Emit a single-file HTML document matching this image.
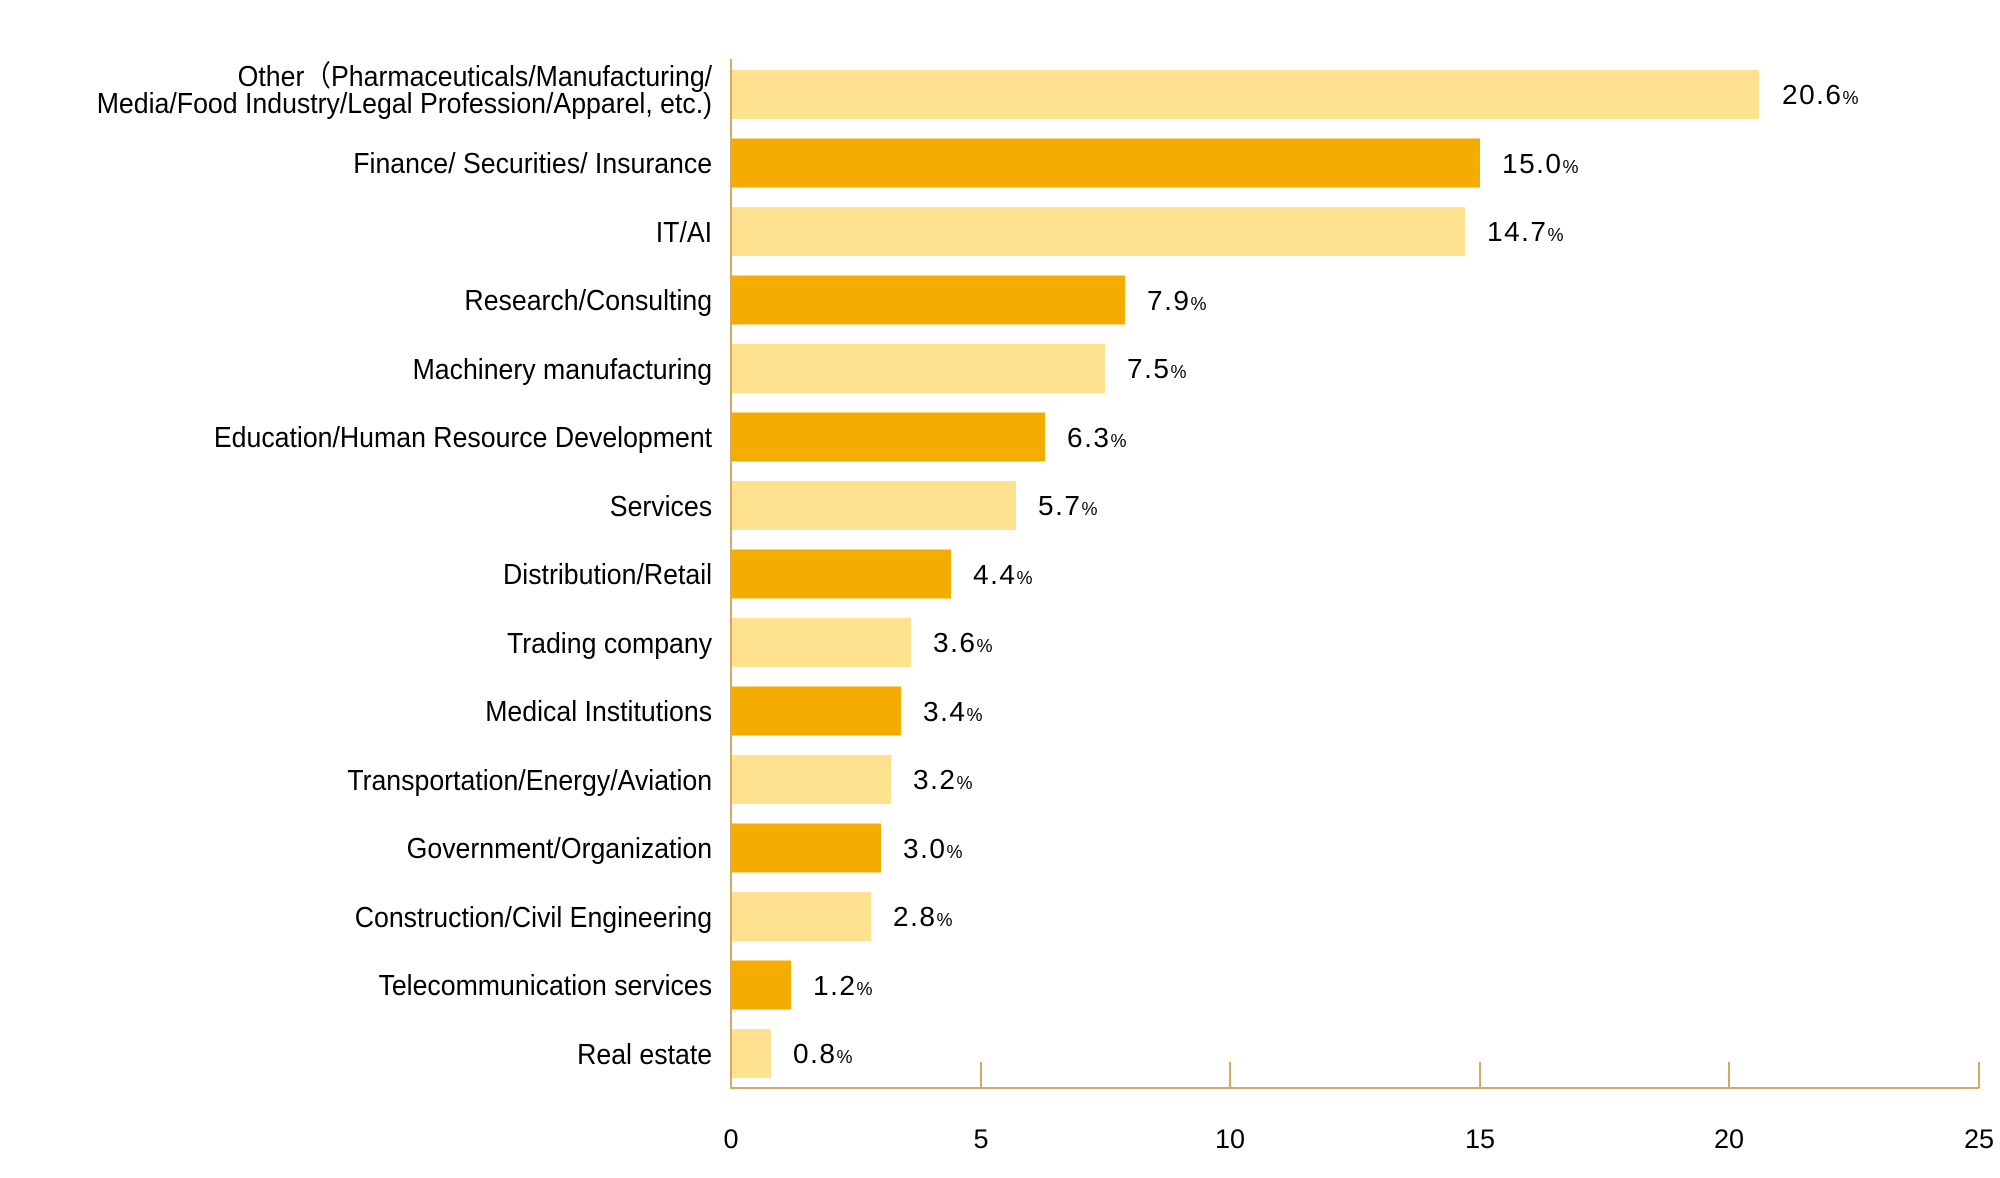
<!DOCTYPE html>
<html><head><meta charset="utf-8"><style>
html,body{margin:0;padding:0;background:#fff;}
svg{display:block;}
</style></head><body>
<svg width="2000" height="1178" viewBox="0 0 2000 1178" xmlns="http://www.w3.org/2000/svg">
<g fill="#000" font-family="Liberation Sans, sans-serif">
<g>
<rect x="731" y="70" width="1028" height="49" fill="#FFE290"/>
<rect x="731" y="138.5" width="749" height="49" fill="#F5AC00"/>
<rect x="731" y="207" width="734" height="49" fill="#FFE290"/>
<rect x="731" y="275.5" width="394" height="49" fill="#F5AC00"/>
<rect x="731" y="344" width="374" height="49" fill="#FFE290"/>
<rect x="731" y="412.5" width="314" height="49" fill="#F5AC00"/>
<rect x="731" y="481" width="285" height="49" fill="#FFE290"/>
<rect x="731" y="549.5" width="220" height="49" fill="#F5AC00"/>
<rect x="731" y="618" width="180" height="49" fill="#FFE290"/>
<rect x="731" y="686.5" width="170" height="49" fill="#F5AC00"/>
<rect x="731" y="755" width="160" height="49" fill="#FFE290"/>
<rect x="731" y="823.5" width="150" height="49" fill="#F5AC00"/>
<rect x="731" y="892" width="140" height="49" fill="#FFE290"/>
<rect x="731" y="960.5" width="60" height="49" fill="#F5AC00"/>
<rect x="731" y="1029" width="40" height="49" fill="#FFE290"/>
</g>
<g stroke="#D6A962" stroke-width="2">
<line x1="731" y1="59" x2="731" y2="1089"/>
<line x1="730" y1="1088" x2="1979" y2="1088"/>
<line x1="981" y1="1062" x2="981" y2="1088"/>
<line x1="1230" y1="1062" x2="1230" y2="1088"/>
<line x1="1480" y1="1062" x2="1480" y2="1088"/>
<line x1="1729" y1="1062" x2="1729" y2="1088"/>
<line x1="1979" y1="1062" x2="1979" y2="1088"/>
</g>
<g font-size="27" text-anchor="middle">
<text x="731" y="1148">0</text>
<text x="981" y="1148">5</text>
<text x="1230" y="1148">10</text>
<text x="1480" y="1148">15</text>
<text x="1729" y="1148">20</text>
<text x="1979" y="1148">25</text>
</g>
<g transform="scale(0.92,1)" font-size="29" text-anchor="end">
<text x="774" y="86">Other（Pharmaceuticals/Manufacturing/</text>
<text x="774" y="113">Media/Food Industry/Legal Profession/Apparel, etc.)</text>
<text x="774" y="173">Finance/ Securities/ Insurance</text>
<text x="774" y="242">IT/AI</text>
<text x="774" y="310">Research/Consulting</text>
<text x="774" y="379">Machinery manufacturing</text>
<text x="774" y="447">Education/Human Resource Development</text>
<text x="774" y="516">Services</text>
<text x="774" y="584">Distribution/Retail</text>
<text x="774" y="653">Trading company</text>
<text x="774" y="721">Medical Institutions</text>
<text x="774" y="790">Transportation/Energy/Aviation</text>
<text x="774" y="858">Government/Organization</text>
<text x="774" y="927">Construction/Civil Engineering</text>
<text x="774" y="995">Telecommunication services</text>
<text x="774" y="1064">Real estate</text>
</g>
<g font-size="28" letter-spacing="1.5">
<text x="1782" y="104">20.6<tspan font-size="18">%</tspan></text>
<text x="1502" y="173">15.0<tspan font-size="18">%</tspan></text>
<text x="1487" y="241">14.7<tspan font-size="18">%</tspan></text>
<text x="1147" y="310">7.9<tspan font-size="18">%</tspan></text>
<text x="1127" y="378">7.5<tspan font-size="18">%</tspan></text>
<text x="1067" y="447">6.3<tspan font-size="18">%</tspan></text>
<text x="1038" y="515">5.7<tspan font-size="18">%</tspan></text>
<text x="973" y="584">4.4<tspan font-size="18">%</tspan></text>
<text x="933" y="652">3.6<tspan font-size="18">%</tspan></text>
<text x="923" y="721">3.4<tspan font-size="18">%</tspan></text>
<text x="913" y="789">3.2<tspan font-size="18">%</tspan></text>
<text x="903" y="858">3.0<tspan font-size="18">%</tspan></text>
<text x="893" y="926">2.8<tspan font-size="18">%</tspan></text>
<text x="813" y="995">1.2<tspan font-size="18">%</tspan></text>
<text x="793" y="1063">0.8<tspan font-size="18">%</tspan></text>
</g>
</g>
</svg>
</body></html>
